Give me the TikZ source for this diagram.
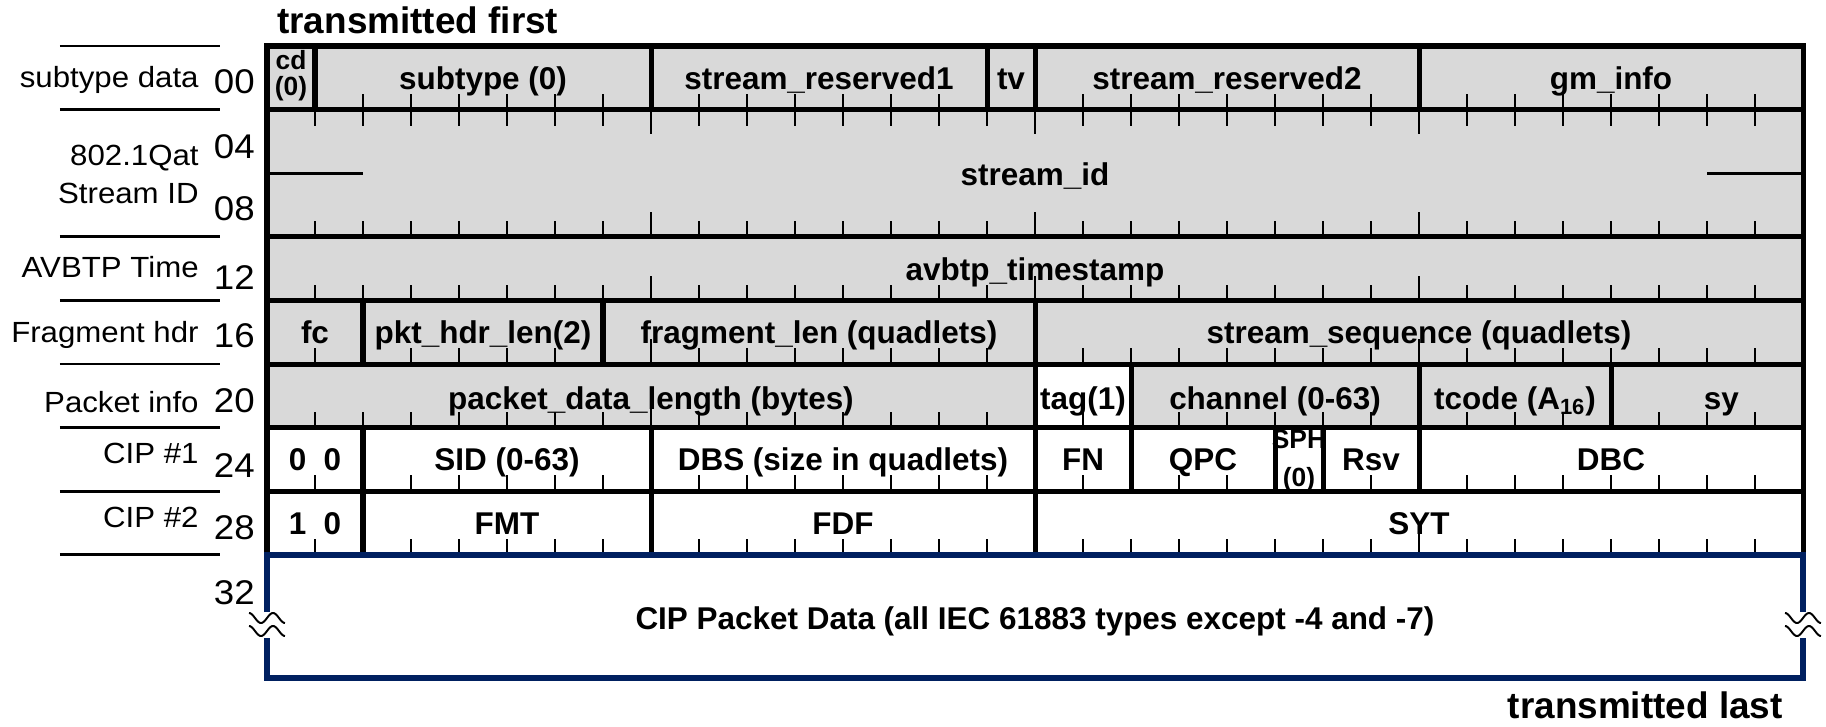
\documentclass[tikz,border=0pt]{standalone}
\usepackage{fontspec}
\setmainfont{Liberation Sans}
\newfontfamily\lblfont[FakeStretch=1.07]{Liberation Sans}
\definecolor{fieldgray}{HTML}{D9D9D9}
\definecolor{navy}{RGB}{0,32,96}

\begin{document}
\begin{tikzpicture}[
    x=0.96cm, y=-1.272cm,
    field/.style={font=\bfseries\fontsize{17.9}{20}\selectfont, anchor=base, inner sep=0pt},
    tinyfield/.style={font=\bfseries\fontsize{15}{16}\selectfont, align=center, inner sep=0pt},
    rowlabel/.style={font=\lblfont\fontsize{16.6}{18}\selectfont, anchor=base east, inner sep=0pt},
    offsetnum/.style={font=\lblfont\fontsize{19.5}{20}\selectfont, anchor=base east, inner sep=0pt},
    heading/.style={font=\bfseries\fontsize{21}{24}\selectfont, inner sep=0pt},
    outline/.style={line width=2.85pt},
    divider/.style={line width=2.85pt},
    bittick/.style={line width=1pt},
    guide/.style={line width=1.6pt},
    databox/.style={draw=navy, line width=3.1pt},
    wavy/.style={line width=1.1pt},
    brk/.pic={
        \draw[wavy, x=1cm, y=1cm] plot[domain=-0.36:0.36, samples=40, smooth] (\x, {0.13+0.1*cos(750*(\x+0.36))});
        \draw[wavy, x=1cm, y=1cm] plot[domain=-0.36:0.36, samples=40, smooth] (\x, {-0.13+0.1*cos(750*(\x+0.36))});
    }
]
\useasboundingbox (-5.5625,-0.7233) rectangle (32.479,10.692);

% Shading of the AVTP header
\fill[fieldgray] (0,0) rectangle (32,6);
\fill[white] (16,5) rectangle (18,6);

% Headings
\node[heading, anchor=base west] (first) at (0.208,-0.19) {transmitted first};
\node[heading, anchor=base east] (last) at (31.583,10.58) {transmitted last};

% Row labels
\node[rowlabel] (lsub) at (-1.417,0.645) {subtype data};
\node[rowlabel] (lqat) at (-1.417,1.871) {802.1Qat};
\node[rowlabel] (lsid) at (-1.417,2.469) {Stream ID};
\node[rowlabel] (ltime) at (-1.417,3.632) {AVBTP Time};
\node[rowlabel] (lfrag) at (-1.417,4.654) {Fragment hdr};
\node[rowlabel] (lpkt) at (-1.417,5.755) {Packet info};
\node[rowlabel] (lcip1) at (-1.417,6.557) {CIP \#1};
\node[rowlabel] (lcip2) at (-1.417,7.563) {CIP \#2};

% Byte offsets
\node[offsetnum] (o00) at (-0.25,0.739) {00};
\node[offsetnum] (o04) at (-0.25,1.761) {04};
\node[offsetnum] (o08) at (-0.25,2.736) {08};
\node[offsetnum] (o12) at (-0.25,3.836) {12};
\node[offsetnum] (o16) at (-0.25,4.748) {16};
\node[offsetnum] (o20) at (-0.25,5.770) {20};
\node[offsetnum] (o24) at (-0.25,6.777) {24};
\node[offsetnum] (o28) at (-0.25,7.767) {28};
\node[offsetnum] (o32) at (-0.25,8.789) {32};

% Row 00
\node[tinyfield, font=\bfseries\fontsize{15}{14.8}\selectfont] (cd) at (0.5,0.47) {cd\\(0)};
\node[field] (subtype) at (4.5,0.68) {subtype (0)};
\node[field] (res1) at (11.5,0.68) {stream\_reserved1};
\node[field] (tv) at (15.5,0.68) {tv};
\node[field] (res2) at (20,0.68) {stream\_reserved2};
\node[field] (gm) at (28,0.68) {gm\_info};

% Rows 04 to 12
\node[field] (sid) at (16,2.20) {stream\_id};
\node[field] (avbtp) at (16,3.68) {avbtp\_timestamp};

% Fragment header
\node[field] (fc) at (1,4.68) {fc};
\node[field] (pkthdr) at (4.5,4.68) {pkt\_hdr\_len(2)};
\node[field] (fraglen) at (11.5,4.68) {fragment\_len (quadlets)};
\node[field] (seq) at (24,4.68) {stream\_sequence (quadlets)};

% Packet info
\node[field] (pdl) at (8,5.72) {packet\_data\_length (bytes)};
\node[field] (tag) at (17,5.72) {tag(1)};
\node[field] (chan) at (21,5.72) {channel (0-63)};
\node[field] (tcode) at (26,5.72) {tcode (A\textsubscript{16})};
\node[field] (sy) at (30.3,5.72) {sy};

% CIP header
\node[field] (cipa) at (1,6.68) {0\ \ 0};
\node[field] (sidf) at (5,6.68) {SID (0-63)};
\node[field] (dbs) at (12,6.68) {DBS (size in quadlets)};
\node[field] (fn) at (17,6.68) {FN};
\node[field] (qpc) at (19.5,6.68) {QPC};
\node[tinyfield, font=\bfseries\fontsize{15}{21.6}\selectfont] (sph) at (21.5,6.52) {SPH\\(0)};
\node[field] (rsv) at (23,6.68) {Rsv};
\node[field] (dbc) at (28,6.68) {DBC};
\node[field] (cipb) at (1,7.68) {1\ \ 0};
\node[field] (fmt) at (5,7.68) {FMT};
\node[field] (fdf) at (12,7.68) {FDF};
\node[field] (syt) at (24,7.68) {SYT};

% Payload
\node[field] (data) at (16,9.17) {CIP Packet Data (all IEC 61883 types except -4 and -7)};

% Bit ticks
\foreach \yb in {1,3,4,5,6,7,8}
  \foreach \b in {1,...,31} {
    \pgfmathsetmacro\len{ifthenelse(mod(\b,8)==0,0.39,0.25)}
    \draw[bittick] (\b,\yb) -- ++(0,-\len);
  }
\foreach \b in {1,...,31} {
  \pgfmathsetmacro\len{ifthenelse(mod(\b,8)==0,0.39,0.25)}
  \draw[bittick] (\b,1) -- ++(0,\len);
}

% Field boundaries
\foreach \b in {1,8,15,16,24} \draw[divider] (\b,0) -- (\b,1);
\foreach \b in {2,7,16} \draw[divider] (\b,4) -- (\b,5);
\foreach \b in {16,18,24,28} \draw[divider] (\b,5) -- (\b,6);
\foreach \b in {2,8,16,18,21,22,24} \draw[divider] (\b,6) -- (\b,7);
\foreach \b in {2,8,16} \draw[divider] (\b,7) -- (\b,8);
\foreach \yb in {1,3,4,5,6,7} \draw[divider] (0,\yb) -- (32,\yb);
\draw[outline] (0,0) rectangle (32,8);
\draw[guide] (0,2) -- (2,2);
\draw[guide] (30,2) -- (32,2);

% Payload box
\draw[databox] (0,8.90) -- (0,8) -- (32,8) -- (32,8.90);
\draw[databox] (0,9.31) -- (0,9.937) -- (32,9.937) -- (32,9.31);
\pic at (0,9.096) {brk};
\pic at (32,9.096) {brk};

% Row separators on the left
\foreach \yb in {0,1,3,4,5,6,7,8} \draw[guide] (-4.3125,\yb) -- (-0.979,\yb);

\end{tikzpicture}
\end{document}
